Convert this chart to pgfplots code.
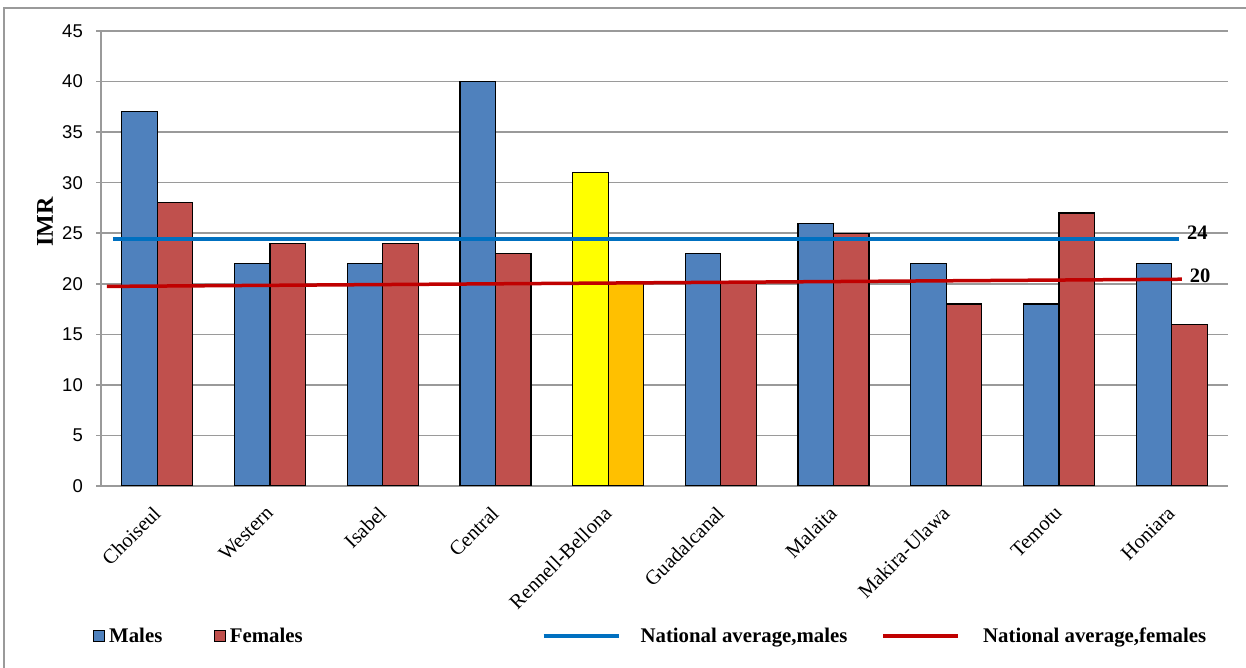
\documentclass[border=0pt]{standalone}
\usepackage{pgfplots}
\pgfplotsset{compat=1.18}
\usepackage{fontspec}
\setmainfont{Liberation Serif}
\newfontfamily\arialfont{Liberation Sans}

\definecolor{mblue}{HTML}{4F81BD}
\definecolor{fred}{HTML}{C0504D}
\definecolor{ryellow}{HTML}{FFFF00}
\definecolor{rorange}{HTML}{FFC000}
\definecolor{lblue}{HTML}{0070C0}
\definecolor{lred}{HTML}{C00000}
\definecolor{gridgray}{HTML}{9A9A9A}

\begin{document}
\begin{tikzpicture}
\useasboundingbox (0pt,0pt) rectangle (1246pt,668pt);
% chart area frame
\draw[gridgray, line width=1.5pt] (4pt,0pt) -- (4pt,660pt) -- (1246pt,660pt);
\begin{axis}[
  at={(101pt,182pt)}, anchor=south west,
  scale only axis, width=1127pt, height=455pt,
  xmin=-0.5, xmax=9.5, ymin=0, ymax=45,
  ytick={0,5,...,45},
  xtick={0,...,9},
  xticklabels={Choiseul,Western,Isabel,Central,Rennell-Bellona,Guadalcanal,Malaita,Makira-Ulawa,Temotu,Honiara},
  xticklabel style={rotate=45, anchor=north east, inner sep=0pt,
    font=\fontsize{20.5}{22}\selectfont, xshift=-13.6pt, yshift=-5.8pt},
  yticklabel style={font=\arialfont\fontsize{18.5}{20}\selectfont, inner sep=0pt, anchor=east, xshift=-13pt},
  /pgf/number format/assume math mode=true,
  axis x line*=bottom, axis y line*=left,
  x axis line style={-, draw=gridgray, line width=1.5pt},
  y axis line style={-, draw=gridgray, line width=1.5pt},
  tick align=outside, major tick length=5pt,
  xtick style={draw=none},
  ytick style={draw=gridgray, line width=1.5pt},
  ymajorgrids, major grid style={draw=gridgray, line width=1.5pt},
  ylabel={\textbf{IMR}},
  ylabel style={font=\fontsize{24}{26}\selectfont, at={(axis description cs:-0.0497,0.58)}, anchor=center},
  legend columns=4,
  legend cell align=left,
  legend style={at={(axis description cs:-0.0071,-0.3297)}, anchor=west,
    draw=none, fill=none, inner sep=0pt,
    font=\bfseries\fontsize{20.8}{22}\selectfont,
    nodes={inner xsep=0pt, inner ysep=2pt},
    /tikz/every odd column/.append style={column sep=4pt},
    /tikz/every even column/.append style={column sep=34pt}},
]
% Males
\addplot[ybar, bar width=35.5pt, bar shift=-17.75pt, fill=mblue, draw=black, line width=1.2pt, forget plot]
  coordinates {(0,37) (1,22) (2,22) (3,40) (5,23) (6,26) (7,22) (8,18) (9,22)};
% Females
\addplot[ybar, bar width=35.5pt, bar shift=17.75pt, fill=fred, draw=black, line width=1.2pt, forget plot]
  coordinates {(0,28) (1,24) (2,24) (3,23) (5,20) (6,25) (7,18) (8,27) (9,16)};
% Rennell-Bellona highlighted
\addplot[ybar, bar width=35.5pt, bar shift=-17.75pt, fill=ryellow, draw=black, line width=1.2pt, forget plot]
  coordinates {(4,31)};
\addplot[ybar, bar width=35.5pt, bar shift=17.75pt, fill=rorange, draw=black, line width=1.2pt, forget plot]
  coordinates {(4,20)};
% national averages
\addplot[lblue, line width=3.5pt, forget plot]
  coordinates {(-0.394,24.45) (9.065,24.45)}
  node[pos=1, anchor=base west, xshift=3pt, yshift=-1pt, font=\bfseries\fontsize{20.5}{22}\selectfont, text=black] {24};
\addplot[lred, line width=3.5pt, forget plot]
  coordinates {(-0.447,19.74) (9.09,20.45)}
  node[pos=1, anchor=base west, xshift=3pt, yshift=-3pt, font=\bfseries\fontsize{20.5}{22}\selectfont, text=black] {20};
% legend (invisible paths set the spacing between entries)
\addlegendimage{legend image code/.code={\draw[fill=mblue, draw=black, line width=1pt] (0pt,-5.5pt) rectangle (11pt,5.5pt);}}
\addlegendentry{Males}
\addlegendimage{legend image code/.code={\path[draw=none, fill=none] (-18pt,0pt) -- (0pt,0pt); \draw[fill=fred, draw=black, line width=1pt] (0pt,-5.5pt) rectangle (11pt,5.5pt);}}
\addlegendentry{Females}
\addlegendimage{legend image code/.code={\path[draw=none, fill=none] (-207pt,0pt) -- (93pt,0pt); \draw[lblue, line width=3.5pt] (0pt,0pt) -- (75pt,0pt);}}
\addlegendentry{National average,males}
\addlegendimage{legend image code/.code={\path[draw=none, fill=none] (0pt,0pt) -- (96pt,0pt); \draw[lred, line width=3.5pt] (0pt,0pt) -- (75pt,0pt);}}
\addlegendentry{National average,females}
\end{axis}
\end{tikzpicture}
\end{document}
